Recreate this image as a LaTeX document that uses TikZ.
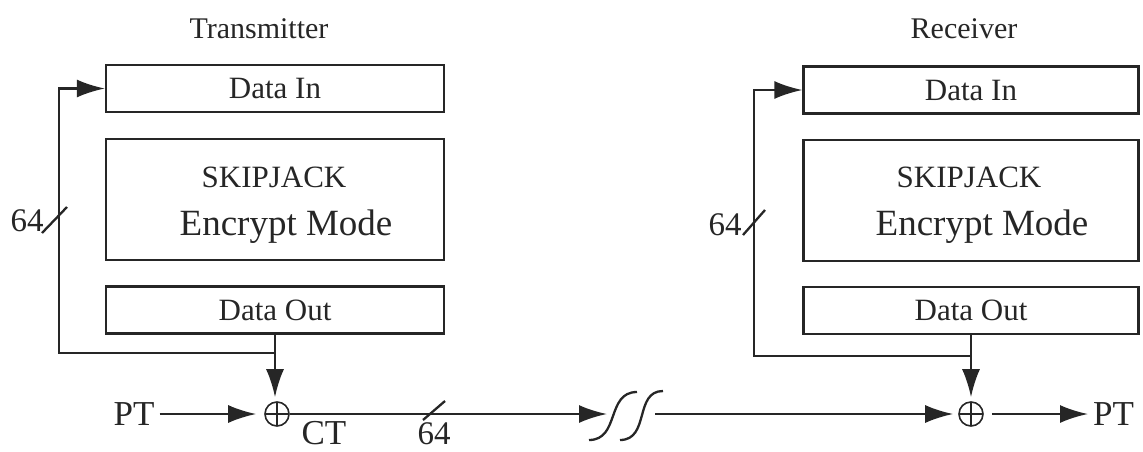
\documentclass[tikz,border=0pt]{standalone}
\usepackage{fontspec}
\setmainfont{Liberation Serif}
\usepackage{tikz}
\usetikzlibrary{arrows.meta, positioning, calc}
\definecolor{InkGray}{HTML}{262626}

\begin{document}
\begin{tikzpicture}[x=1pt, y=-1pt, line width=2.3pt, color=InkGray,
    blk/.style={draw, minimum height=47pt, inner sep=0pt, font=\fontsize{31}{31}\selectfont},
    xorgate/.style={draw, circle, minimum size=24pt, inner sep=0pt, line width=1.6pt,
        path picture={\draw[line width=1.4pt] (path picture bounding box.north) -- (path picture bounding box.south)
            (path picture bounding box.west) -- (path picture bounding box.east);}},
    head/.style={-{Latex[length=28pt, width=18pt]}},
    bigtxt/.style={font=\fontsize{35}{35}\selectfont, inner sep=4pt}]
    \useasboundingbox (0,0) rectangle (1143,451);

    % transmitter side
    \node[font=\fontsize{30}{30}\selectfont] (ttl1) at (259,29) {Transmitter};
    \node[blk, minimum width=338pt] (din1) at (275,88.5) {Data In};
    \node[blk, minimum width=338pt, minimum height=121pt, below=25pt of din1] (enc1) {};
    \node[blk, minimum width=338pt, below=24pt of enc1] (dout1) {Data Out};
    \node[anchor=base, font=\fontsize{31}{31}\selectfont] (alg1) at ([xshift=-1pt, yshift=12.5pt]enc1.center) {SKIPJACK};
    \node[anchor=base, font=\fontsize{37}{37}\selectfont] (mode1) at ([xshift=11pt, yshift=-35.5pt]enc1.center) {Encrypt Mode};
    \node[xorgate] (xor1) at (277,414) {};
    \node[bigtxt] (pt1) at (134,414) {PT};
    \node[bigtxt] (ct1) at (324,433) {CT};
    \node[bigtxt, font=\fontsize{33}{33}\selectfont] (w1) at (27,221) {64};
    \coordinate (tap1) at (dout1.south |- 0,353);
    \coordinate (fb1) at (59,353);
    \draw[head, shorten >=4pt] (dout1.south) -- (dout1.south |- xor1.north);
    \draw[head] (tap1) -- (fb1) |- (din1.west);
    \draw[head, shorten >=8pt] (pt1) -- (xor1.west);
    \draw (42,233) -- (67,207);

    % channel
    \coordinate (brk1) at (607,414);
    \coordinate (brk2) at (655,414);
    \draw[head] (xor1.east) -- (brk1);
    \draw (589,440) .. controls (620,440) and (606,392) .. (637,392);
    \draw (620,440) .. controls (650,440) and (634,391) .. (663,391);
    \node[bigtxt, font=\fontsize{33}{33}\selectfont] (w2) at (434,434) {64};
    \draw (423,420) -- (445,401);

    % receiver side
    \node[font=\fontsize{30}{30}\selectfont] (ttl2) at (964,29) {Receiver};
    \node[blk, minimum width=335pt] (din2) at (971,90) {Data In};
    \node[blk, minimum width=335pt, minimum height=121pt, below=24pt of din2] (enc2) {};
    \node[blk, minimum width=335pt, below=24pt of enc2] (dout2) {Data Out};
    \node[anchor=base, font=\fontsize{31}{31}\selectfont] (alg2) at ([xshift=-2pt, yshift=12.5pt]enc2.center) {SKIPJACK};
    \node[anchor=base, font=\fontsize{37}{37}\selectfont] (mode2) at ([xshift=11pt, yshift=-35.5pt]enc2.center) {Encrypt Mode};
    \node[xorgate] (xor2) at (971,414) {};
    \node[bigtxt, anchor=west] (pt2) at (1088,414) {PT};
    \node[bigtxt, font=\fontsize{33}{33}\selectfont] (w3) at (725,225) {64};
    \coordinate (tap2) at (dout2.south |- 0,356);
    \coordinate (fb2) at (754,356);
    \draw[head, shorten >=4pt] (dout2.south) -- (dout2.south |- xor2.north);
    \draw[head] (tap2) -- (fb2) |- (din2.west);
    \draw[head, shorten >=5pt] (brk2) -- (xor2.west);
    \draw[head, shorten <=8pt] (xor2.east) -- (pt2);
    \draw (743,235) -- (765,210);
\end{tikzpicture}
\end{document}
